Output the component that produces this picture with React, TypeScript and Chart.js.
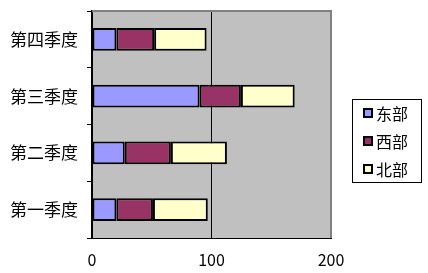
import React, { useEffect, useRef } from "react";
import { Chart, registerables } from "chart.js";

Chart.register(...registerables);

const categories = ["第一季度", "第二季度", "第三季度", "第四季度"];
const seriesNames = ["东部", "西部", "北部"];
const east = [20.4, 27.4, 90, 20.4];
const west = [30.6, 38.6, 34.6, 31.6];
const north = [45.9, 46.9, 45, 43.9];
const xTicks = [0, 100, 200];
const colors = ["#9999FF", "#993366", "#FFFFCC"];

const FONT = "'Noto Sans CJK SC', sans-serif";

const decorPlugin = {
  id: "decor",
  beforeDraw(chart: any) {
    const { ctx, chartArea: a } = chart;
    ctx.save();
    ctx.fillStyle = "#C0C0C0";
    ctx.fillRect(a.left, a.top, a.right - a.left, a.bottom - a.top);
    ctx.restore();
  },
  afterDraw(chart: any) {
    const { ctx, chartArea: a } = chart;
    ctx.save();
    ctx.strokeStyle = "#808080";
    ctx.lineWidth = 2;
    ctx.beginPath();
    ctx.moveTo(a.left, a.top);
    ctx.lineTo(a.right, a.top);
    ctx.lineTo(a.right, a.bottom);
    ctx.stroke();

    // legend box
    const lx = 352, ly = 99, lw = 69, lh = 83;
    ctx.fillStyle = "#FFFFFF";
    ctx.fillRect(lx, ly, lw, lh);
    ctx.strokeStyle = "#000";
    ctx.lineWidth = 1;
    ctx.strokeRect(lx + 0.5, ly + 0.5, lw, lh);
    ctx.font = `16px ${FONT}`;
    ctx.textBaseline = "middle";
    ctx.textAlign = "left";
    const ds = chart.data.datasets;
    for (let i = 0; i < ds.length; i++) {
      const cy = 113 + i * 28;
      ctx.fillStyle = ds[i].backgroundColor;
      ctx.fillRect(364, cy - 4, 8, 8);
      ctx.strokeStyle = "#000";
      ctx.lineWidth = 2;
      ctx.strokeRect(364, cy - 4, 8, 8);
      ctx.fillStyle = "#000";
      ctx.fillText(ds[i].label, 376, cy + 1);
    }
    ctx.restore();
  },
};

export default function App() {
  const ref = useRef<HTMLCanvasElement>(null);
  useEffect(() => {
    const seriesData = [east, west, north];
    const chart = new Chart(ref.current!, {
      type: "bar",
      data: {
        labels: categories,
        datasets: seriesNames.map((name, i) => ({
          label: name,
          data: seriesData[i],
          backgroundColor: colors[i],
          borderColor: "#000",
          borderWidth: 2,
          borderSkipped: false,
          barPercentage: 0.4,
          categoryPercentage: 1,
        })),
      },
      options: {
        indexAxis: "y",
        animation: false,
        responsive: false,
        maintainAspectRatio: false,
        layout: { padding: { left: 0, top: 11, right: 97, bottom: 0 } },
        plugins: { legend: { display: false }, tooltip: { enabled: false } },
        scales: {
          x: {
            stacked: true,
            min: 0,
            max: 200,
            afterBuildTicks: (s: any) => {
              s.ticks = xTicks.map((v) => ({ value: v }));
            },
            afterFit: (s: any) => {
              s.height = 35;
              s.paddingLeft = 0;
              s.paddingRight = 0;
            },
            grid: {
              drawTicks: false,
              color: (c: any) => (c.tick && c.tick.value === 100 ? "#000" : "rgba(0,0,0,0)"),
              lineWidth: 1,
            },
            border: { display: true, color: "#000", width: 1 },
            ticks: {
              color: "#000",
              padding: 12,
              font: { family: FONT, size: 16 },
              maxRotation: 0,
            },
          },
          y: {
            stacked: true,
            reverse: true,
            afterFit: (s: any) => {
              s.width = 92;
              s.paddingTop = 0;
              s.paddingBottom = 0;
            },
            grid: {
              drawOnChartArea: false,
              drawTicks: true,
              tickLength: 5,
              color: "#000",
              offset: true,
            },
            border: { display: true, color: "#000", width: 2 },
            ticks: {
              color: "#000",
              padding: 9,
              font: { family: FONT, size: 17 },
            },
          },
        },
      },
      plugins: [decorPlugin],
    });
    return () => chart.destroy();
  }, []);
  return (
    <div style={{ position: "fixed", left: 0, top: 0, width: 428, height: 273, background: "#fff" }}>
      <canvas ref={ref} width={428} height={273} style={{ width: 428, height: 273, display: "block" }} />
    </div>
  );
}
